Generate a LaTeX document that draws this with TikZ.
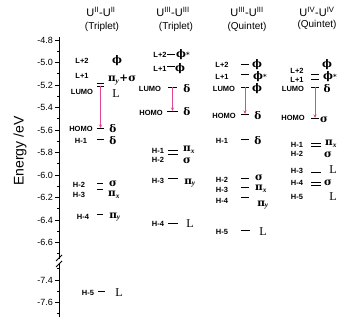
\documentclass[tikz,border=0pt]{standalone}
\usepackage{fontspec}
\setmainfont{Liberation Sans}
\newfontfamily\symf{Liberation Serif}
\newfontfamily\grf{DejaVu Serif}
\usetikzlibrary{arrows.meta}
\definecolor{arrowpink}{RGB}{228,70,150}
\tikzset{
  lab/.style={font=\fontsize{7.5}{8}\selectfont\bfseries, inner sep=0pt},
  sym/.style={font=\fontsize{10.5}{12}\selectfont\grf\bfseries, inner sep=0pt},
  lsym/.style={font=\fontsize{12}{12}\selectfont\symf, inner sep=0pt},
  lvl/.style={line width=0.7pt},
  trans/.style={arrowpink, line width=0.9pt, -{Stealth[length=3.5pt,width=3pt]}},
  ticklab/.style={font=\fontsize{9}{10}\selectfont, anchor=east, inner sep=0pt},
  coltitle/.style={font=\fontsize{11}{12}\selectfont, inner sep=0pt},
  colsub/.style={font=\fontsize{10}{11}\selectfont, inner sep=0pt},
  axisline/.style={line width=0.8pt},
}
\newcommand\mylevel[4]{\draw[lvl] (#2,#4) -- (#3,#4) coordinate[midway] (#1);}
\newcommand\px{\textsubscript{\symf\bfseries\itshape x}}
\newcommand\py{\textsubscript{\symf\bfseries\itshape y}}
\newcommand\phs{ϕ\raisebox{0.5pt}{\fontsize{7}{7}\selectfont *}}
\begin{document}
\begin{tikzpicture}[x=1pt,y=-1pt]
\fill[white] (0,0) rectangle (354,323);
\useasboundingbox (0,0) rectangle (354,323);

% axis
\draw[axisline] (59,37) -- (59,259);
\draw[axisline] (59,263) -- (59,317);
\draw[axisline] (56,261) -- (62,255);
\draw[axisline] (56,267) -- (62,261);
\foreach \y/\l [count=\i] in {40/-4.8,62.5/-5.0,85/-5.2,107.5/-5.4,130/-5.6,152.5/-5.8,175/-6.0,197.5/-6.2,220/-6.4,242.5/-6.6,280/-7.4,302.5/-7.6}{
  \draw[axisline] (59,\y) -- (54.5,\y);
  \node[ticklab] (tk\i) at (53,\y) {\l};
}
\foreach \y in {51.25,73.75,96.25,118.75,141.25,163.75,186.25,208.75,231.25,253.75,268.75,291.25,313.75}{
  \draw[axisline] (59,\y) -- (56.5,\y);
}
\node[font=\fontsize{14}{15}\selectfont, rotate=90, inner sep=0pt] (ylab) at (20,151) {Energy /eV};

% titles
\node[coltitle] (t1) at (101,12) {U\textsuperscript{II}-U\textsuperscript{II}};
\node[colsub] (s1) at (102,27) {(Triplet)};
\node[coltitle] (t2) at (173,12) {U\textsuperscript{III}-U\textsuperscript{III}};
\node[colsub] (s2) at (176,27) {(Triplet)};
\node[coltitle] (t3) at (247,12) {U\textsuperscript{III}-U\textsuperscript{III}};
\node[colsub] (s3) at (247,27) {(Quintet)};
\node[coltitle] (t4) at (317,12) {U\textsuperscript{IV}-U\textsuperscript{IV}};
\node[colsub] (s4) at (317,25) {(Quintet)};

% ---- column 1 ----
\mylevel{c1lb}{97}{104}{83}
\mylevel{c1lumo}{97}{104}{86}
\mylevel{c1homo}{97}{104}{128}
\mylevel{c1h1}{97}{104}{139}
\mylevel{c1h2}{97}{103}{183}
\mylevel{c1h3}{97}{103}{189}
\mylevel{c1h4}{97}{103}{214}
\mylevel{c1h5}{98}{105}{291}
\draw[trans] (c1lumo) -- (c1homo);
\node[lab] (a1) at (82,61) {L+2};
\node[lab] (a2) at (82,76) {L+1};
\node[lab] (a3) at (82,92) {LUMO};
\node[lab] (a4) at (81,129) {HOMO};
\node[lab] (a5) at (81,141) {H-1};
\node[lab] (a6) at (79,185) {H-2};
\node[lab] (a7) at (79,195) {H-3};
\node[lab] (a8) at (83,217) {H-4};
\node[lab] (a9) at (88,293) {H-5};
\node[sym] (b1) at (117,61) {ϕ};
\node[sym] (b2) at (122,80) {π\py+σ};
\node[lsym] (b3) at (116,94) {L};
\node[sym] (b4) at (113,129) {δ};
\node[sym] (b5) at (113,141) {δ};
\node[sym] (b6) at (113,184) {σ};
\node[sym] (b7) at (114,195) {π\px};
\node[sym] (b8) at (115,217) {π\py};
\node[lsym] (b9) at (119,293) {L};

% ---- column 2 ----
\mylevel{c2l2}{167}{175}{54}
\mylevel{c2l1}{167}{175}{66}
\mylevel{c2lumo}{168}{177}{87}
\mylevel{c2homo}{167}{178}{111}
\mylevel{c2h1}{168}{178}{150}
\mylevel{c2h2}{168}{178}{154}
\mylevel{c2h3}{168}{178}{178}
\mylevel{c2h4}{168}{178}{223}
\draw[trans] (c2lumo) -- (c2homo);
\node[lab] (d1) at (160,55) {L+2};
\node[lab] (d2) at (160,69) {L+1};
\node[lab] (d3) at (150,89) {LUMO};
\node[lab] (d4) at (151,113) {HOMO};
\node[lab] (d5) at (158,151) {H-1};
\node[lab] (d6) at (158,160) {H-2};
\node[lab] (d7) at (158,181) {H-3};
\node[lab] (d8) at (158,224) {H-4};
\node[sym] (e1) at (183,55) {\phs};
\node[sym] (e2) at (180,69) {ϕ};
\node[sym] (e3) at (187,89) {δ};
\node[sym] (e4) at (187,112) {δ};
\node[sym] (e5) at (189,150) {π\px};
\node[sym] (e6) at (187,161) {σ};
\node[sym] (e7) at (190,183) {π\py};
\node[lsym] (e8) at (190,224) {L};

% ---- column 3 ----
\mylevel{c3l2}{241}{249}{64}
\mylevel{c3l1}{241}{249}{74}
\mylevel{c3lumo}{241}{249}{87}
\mylevel{c3homo}{241}{249}{114}
\mylevel{c3h1}{241}{249}{139}
\mylevel{c3h2}{241}{249}{178}
\mylevel{c3h3}{241}{249}{187}
\mylevel{c3h4}{241}{249}{197}
\mylevel{c3h5}{241}{250}{230}
\draw[trans] (c3lumo) -- (c3homo);
\node[lab] (f1) at (222,65) {L+2};
\node[lab] (f2) at (222,77) {L+1};
\node[lab] (f3) at (224,89) {LUMO};
\node[lab] (f4) at (224,116) {HOMO};
\node[lab] (f5) at (222,141) {H-1};
\node[lab] (f6) at (222,180) {H-2};
\node[lab] (f7) at (222,190) {H-3};
\node[lab] (f8) at (222,201) {H-4};
\node[lab] (f9) at (222,232) {H-5};
\node[sym] (g1) at (257,65) {ϕ};
\node[sym] (g2) at (260,77) {\phs};
\node[sym] (g3) at (257,89) {ϕ};
\node[sym] (g4) at (258,116) {δ};
\node[sym] (g5) at (258,141) {δ};
\node[sym] (g6) at (259,178) {σ};
\node[sym] (g7) at (261,189) {π\px};
\node[sym] (g8) at (263,205) {π\py};
\node[lsym] (g9) at (263,232) {L};

% ---- column 4 ----
\mylevel{c4l2}{311}{319}{74}
\mylevel{c4l1}{311}{319}{79}
\mylevel{c4lumo}{311}{319}{87}
\mylevel{c4homo}{311}{319}{118}
\mylevel{c4h1}{311}{321}{143}
\mylevel{c4h2}{311}{321}{146}
\mylevel{c4h3}{311}{321}{172}
\mylevel{c4h4}{311}{321}{182}
\mylevel{c4h5}{311}{321}{185}
\draw[trans] (c4lumo) -- (c4homo);
\node[lab] (k1) at (297,71) {L+2};
\node[lab] (k2) at (297,80) {L+1};
\node[lab] (k3) at (293,89) {LUMO};
\node[lab] (k4) at (293,118) {HOMO};
\node[lab] (k5) at (297,145) {H-1};
\node[lab] (k6) at (297,154) {H-2};
\node[lab] (k7) at (297,171) {H-3};
\node[lab] (k8) at (297,183) {H-4};
\node[lab] (k9) at (297,197) {H-5};
\node[sym] (m1) at (327,65) {ϕ};
\node[sym] (m2) at (330,77) {\phs};
\node[sym] (m3) at (327,89) {δ};
\node[sym] (m4) at (324,120) {σ};
\node[sym] (m5) at (331,144) {π\px};
\node[sym] (m6) at (328,155) {σ};
\node[lsym] (m7) at (333,170) {L};
\node[sym] (m8) at (328,183) {σ};
\node[lsym] (m9) at (333,197) {L};
\end{tikzpicture}
\end{document}
